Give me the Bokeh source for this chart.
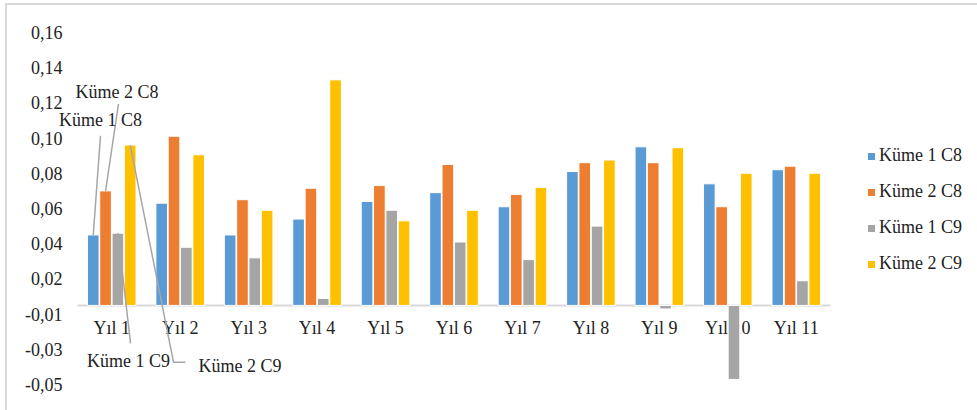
from bokeh.plotting import figure
from bokeh.models import (ColumnDataSource, FixedTicker, Legend, LegendItem,
                          Range1d, Label)
from bokeh.core.properties import value
from bokeh.transform import dodge
from bokeh.embed import file_html
from bokeh.resources import INLINE

# --- data -------------------------------------------------------------
years = ["Yıl 1", "Yıl 2", "Yıl 3", "Yıl 4", "Yıl 5", "Yıl 6",
         "Yıl 7", "Yıl 8", "Yıl 9", "Yıl 10", "Yıl 11"]
kume1_c8 = [0.040, 0.058, 0.040, 0.049, 0.059, 0.064, 0.056, 0.076, 0.090, 0.069, 0.077]
kume2_c8 = [0.065, 0.096, 0.060, 0.0665, 0.068, 0.080, 0.063, 0.081, 0.081, 0.056, 0.079]
kume1_c9 = [0.041, 0.033, 0.027, 0.004, 0.054, 0.036, 0.026, 0.045, -0.002, -0.042, 0.014]
kume2_c9 = [0.091, 0.0855, 0.054, 0.128, 0.048, 0.054, 0.067, 0.0825, 0.0895, 0.075, 0.075]

series_names = ["Küme 1 C8", "Küme 2 C8", "Küme 1 C9", "Küme 2 C9"]
series_colors = ["#5B9BD5", "#ED7D31", "#A5A5A5", "#FFC000"]
series_offsets = [-0.27, -0.09, 0.09, 0.27]

ytick_values = [-0.045, -0.025, -0.005, 0.015, 0.035, 0.055,
                0.075, 0.095, 0.115, 0.135, 0.155]
ytick_labels = ["-0,05", "-0,03", "-0,01", "0,02", "0,04", "0,06",
                "0,08", "0,10", "0,12", "0,14", "0,16"]

FONT = "Liberation Serif"
TEXT_COLOR = "#222222"
n_cat = len(years)

src = ColumnDataSource(dict(idx=list(range(n_cat)), year=years,
                            k1c8=kume1_c8, k2c8=kume2_c8,
                            k1c9=kume1_c9, k2c9=kume2_c9))
cols = ["k1c8", "k2c8", "k1c9", "k2c9"]

# light rule along the top and left edges of the chart box
edge_css = {
    "background-image": ("linear-gradient(#d9d9d9, #d9d9d9), "
                         "linear-gradient(#d9d9d9, #d9d9d9)"),
    "background-size": "2px 100%, 100% 2px",
    "background-position": "5px 3px, 5px 3px",
    "background-repeat": "no-repeat",
}

# plotting area: the 11 category slots take 753 px; 22 px are kept on
# their left for the callouts and 147 px on their right for the legend
slot_px = 753 / n_cat
x_start = -0.5 - 22 / slot_px
x_end = n_cat - 0.5 + 147 / slot_px

p = figure(width=977, height=410,
           x_range=Range1d(x_start, x_end), y_range=Range1d(-0.046, 0.156),
           x_axis_location=None,
           output_backend="svg", toolbar_location=None,
           min_border_left=55, min_border_right=0,
           min_border_top=30, min_border_bottom=24,
           styles=edge_css)
p.outline_line_color = None
p.border_fill_alpha = 0
p.background_fill_alpha = 0
p.xgrid.visible = False
p.ygrid.visible = False

ax = p.yaxis[0]
ax.ticker = FixedTicker(ticks=ytick_values)
ax.major_label_overrides = dict(zip(ytick_values, ytick_labels))
ax.axis_line_color = None
ax.major_tick_line_color = None
ax.minor_tick_line_color = None
ax.major_tick_out = 0
ax.major_tick_in = 0
ax.major_label_standoff = -7
ax.major_label_text_font = FONT
ax.major_label_text_font_size = "18px"
ax.major_label_text_color = TEXT_COLOR

# category labels sit just under the zero line
p.text(x="idx", y=0, text="year", source=src, y_offset=23,
       text_align="center", text_baseline="middle",
       text_font=value(FONT), text_font_size="18px", text_color=TEXT_COLOR)

# zero line across the category slots
p.line(x=[-0.5, n_cat - 0.5], y=[0, 0], line_color="#d9d9d9", line_width=2)

renderers = []
for col, color, off in zip(cols, series_colors, series_offsets):
    r = p.vbar(x=dodge("idx", off, range=p.x_range), top=col, bottom=0,
               width=0.17, source=src, fill_color=color,
               line_color="white", line_width=1)
    renderers.append(r)

# callout labels for the first group, with leader lines to the bar tops
lead_color = "#a6a6a6"
p.line(x=[series_offsets[0], -0.164], y=[kume1_c8[0], 0.0963], line_color=lead_color, line_width=1.5)
p.line(x=[series_offsets[1], 0.099], y=[kume2_c8[0], 0.1144], line_color=lead_color, line_width=1.5)
p.line(x=[series_offsets[2], 0.275], y=[kume1_c9[0], -0.0215], line_color=lead_color, line_width=1.5)
p.line(x=[series_offsets[3], 0.903, 1.078], y=[kume2_c9[0], -0.0323, -0.0323],
       line_color=lead_color, line_width=1.5)

callout_x = [-0.164, 0.077, 0.245, 1.874]
callout_y = [0.1054, 0.1212, -0.0317, -0.0346]
for name, cx, cy in zip(series_names, callout_x, callout_y):
    p.add_layout(Label(x=cx, y=cy, text=name, text_align="center",
                       text_baseline="middle", text_font=FONT,
                       text_font_size="18px", text_color=TEXT_COLOR))

legend = Legend(items=[LegendItem(label=n, renderers=[r]) for n, r in zip(series_names, renderers)],
                location=(811, 112), orientation="vertical",
                glyph_width=10, glyph_height=10, label_standoff=3,
                label_text_font=FONT, label_text_font_size="18px",
                label_text_color=TEXT_COLOR, label_height=20, spacing=15,
                padding=0, margin=0, border_line_color=None,
                background_fill_alpha=0)
p.add_layout(legend)

open("out.html", "w").write(file_html(p, INLINE))
